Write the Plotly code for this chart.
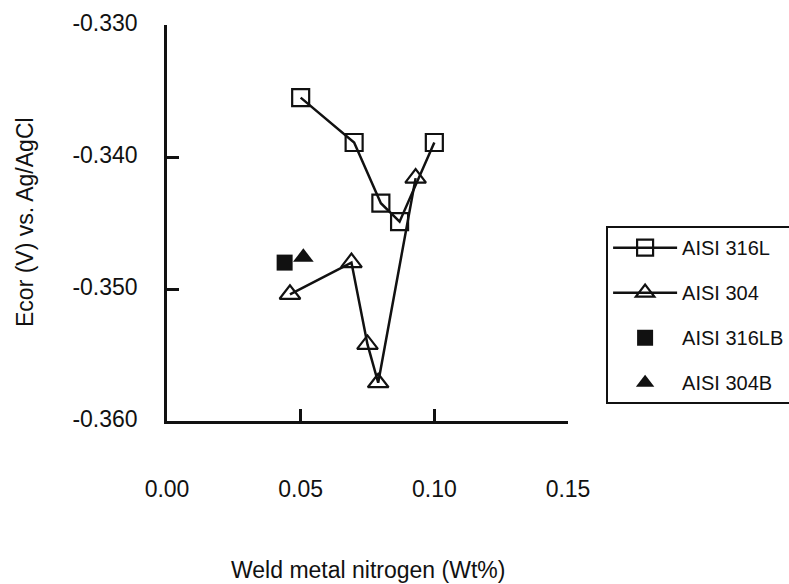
import plotly.graph_objects as go

# Data
x_316L = [0.050, 0.070, 0.080, 0.087, 0.100]
y_316L = [-0.3355, -0.3389, -0.3435, -0.3449, -0.3389]
x_304 = [0.046, 0.069, 0.075, 0.079, 0.093]
y_304 = [-0.3504, -0.3480, -0.3542, -0.3571, -0.3416]
x_316LB = [0.044]
y_316LB = [-0.3480]
x_304B = [0.051]
y_304B = [-0.3476]

x_ticks = [0.00, 0.05, 0.10, 0.15]
x_ticklabels = ["0.00", "0.05", "0.10", "0.15"]
y_ticks = [-0.360, -0.350, -0.340, -0.330]
y_ticklabels = ["-0.360", "-0.350", "-0.340", "-0.330"]

FONT = "Liberation Sans, Arial, sans-serif"
BLACK = "#111111"

fig = go.Figure()
fig.add_trace(go.Scatter(
    x=x_316L, y=y_316L, name="AISI 316L", mode="lines+markers", legendgroup="a",
    line=dict(color=BLACK, width=2.5),
    marker=dict(symbol="square-open", size=17, color=BLACK, line=dict(width=2.2, color=BLACK)),
))
fig.add_trace(go.Scatter(
    x=x_304, y=y_304, name="AISI 304", mode="lines+markers", legendgroup="b",
    line=dict(color=BLACK, width=2.5),
    marker=dict(symbol="triangle-up-open", size=18, color=BLACK, line=dict(width=2.2, color=BLACK)),
))
fig.add_trace(go.Scatter(
    x=x_316LB, y=y_316LB, name="AISI 316LB", mode="markers", legendgroup="c",
    marker=dict(symbol="square", size=16, color=BLACK),
))
fig.add_trace(go.Scatter(
    x=x_304B, y=y_304B, name="AISI 304B", mode="markers", legendgroup="d",
    marker=dict(symbol="triangle-up", size=18, color=BLACK),
))

fig.update_layout(
    width=789, height=584,
    margin=dict(l=167, r=221, t=25, b=163, autoexpand=False),
    paper_bgcolor="white", plot_bgcolor="white",
    font=dict(family=FONT, size=22, color=BLACK),
    showlegend=True,
    legend=dict(
        x=1.095, xanchor="left", y=0.492, yanchor="top",
        bordercolor=BLACK, borderwidth=2, bgcolor="white",
        font=dict(size=20, family=FONT, color=BLACK),
        traceorder="grouped", tracegroupgap=16, itemwidth=64,
    ),
    xaxis=dict(
        range=[0, 0.15], tickvals=x_ticks, ticktext=x_ticklabels,
        showgrid=False, zeroline=False, showline=True, linecolor=BLACK, linewidth=2.5,
        ticks="inside", ticklen=12, tickwidth=2.5, tickcolor=BLACK,
        ticklabelstandoff=46, tickfont=dict(size=23),
    ),
    yaxis=dict(
        range=[-0.360, -0.330], tickvals=y_ticks, ticktext=y_ticklabels,
        showgrid=False, zeroline=False, showline=True, linecolor=BLACK, linewidth=2.5,
        ticks="inside", ticklen=12, tickwidth=2.5, tickcolor=BLACK,
        ticklabelstandoff=22, ticklabelshift=-2, tickfont=dict(size=23),
    ),
)

fig.add_annotation(
    text="Weld metal nitrogen (Wt%)", xref="paper", yref="paper",
    x=0.5, y=(421 - 570) / 396, xanchor="center", yanchor="middle",
    showarrow=False, font=dict(size=23, family=FONT, color=BLACK),
)
fig.add_annotation(
    text="Ecor (V) vs. Ag/AgCl", xref="paper", yref="paper",
    x=(25 - 167) / 401, y=(421 - 222) / 396, xanchor="center", yanchor="middle",
    textangle=-90, showarrow=False, font=dict(size=23, family=FONT, color=BLACK),
)

fig.write_html("out.html")
